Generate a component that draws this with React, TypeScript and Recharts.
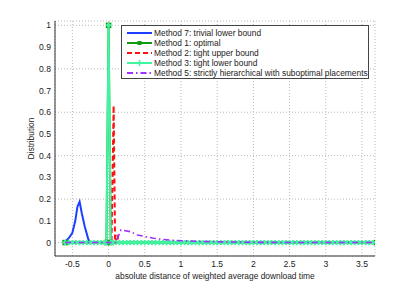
import {
  LineChart,
  Line,
  XAxis,
  YAxis,
  CartesianGrid,
  Legend,
  Label,
} from "recharts";

// axis ticks
const xTicks = [-0.5, 0, 0.5, 1, 1.5, 2, 2.5, 3, 3.5];
const yTicks = [0, 0.1, 0.2, 0.3, 0.4, 0.5, 0.6, 0.7, 0.8, 0.9, 1];

// series values, [x, y]
const method7 = [
  [-0.62, 0], [-0.58, 0.01], [-0.54, 0.025], [-0.5, 0.045], [-0.46, 0.1],
  [-0.43, 0.165], [-0.4, 0.188], [-0.37, 0.135], [-0.33, 0.075],
  [-0.28, 0.015], [-0.25, 0], [3.7, 0],
];
const method1 = [
  [-0.6, 0], [-0.03, 0], [0, 1], [0.03, 0], [3.7, 0],
];
const method2 = [
  [-0.6, 0], [0.04, 0], [0.07, 0.63], [0.09, 0.0], [0.1, 0.0],
  [0.12, 0.035], [0.14, 0], [3.7, 0],
];
const method3 = [
  [-0.6, 0], [-0.55, 0], [-0.5, 0], [-0.45, 0], [-0.4, 0], [-0.35, 0],
  [-0.3, 0], [-0.25, 0], [-0.2, 0], [-0.15, 0], [-0.1, 0], [-0.05, 0],
  [-0.03, 0], [0, 1], [0.03, 0], [0.05, 0], [0.1, 0], [0.15, 0], [0.2, 0],
  [0.25, 0], [0.3, 0], [0.35, 0], [0.4, 0], [0.45, 0], [0.5, 0], [0.55, 0],
  [0.6, 0], [0.65, 0], [0.7, 0], [0.75, 0], [0.8, 0], [0.85, 0], [0.9, 0],
  [0.95, 0], [1, 0], [1.05, 0], [1.1, 0], [1.15, 0], [1.2, 0], [1.25, 0],
  [1.3, 0], [1.35, 0], [1.4, 0], [1.45, 0], [1.5, 0], [1.55, 0], [1.6, 0],
  [1.65, 0], [1.7, 0], [1.75, 0], [1.8, 0], [1.85, 0], [1.9, 0], [1.95, 0],
  [2, 0], [2.05, 0], [2.1, 0], [2.15, 0], [2.2, 0], [2.25, 0], [2.3, 0],
  [2.35, 0], [2.4, 0], [2.45, 0], [2.5, 0], [2.55, 0], [2.6, 0], [2.65, 0],
  [2.7, 0], [2.75, 0], [2.8, 0], [2.85, 0], [2.9, 0], [2.95, 0], [3, 0],
  [3.05, 0], [3.1, 0], [3.15, 0], [3.2, 0], [3.25, 0], [3.3, 0], [3.35, 0],
  [3.4, 0], [3.45, 0], [3.5, 0], [3.55, 0], [3.6, 0], [3.65, 0], [3.7, 0],
];
const method5 = [
  [-0.6, 0], [0.1, 0], [0.17, 0.058], [0.3, 0.05], [0.4, 0.035],
  [0.5, 0.028], [0.62, 0.02], [0.75, 0.014], [0.9, 0.01], [1.05, 0.008],
  [1.3, 0.005], [1.6, 0.003], [2, 0.001], [2.5, 0], [3.7, 0],
];

const toPoints = (arr: number[][]) => arr.map(([x, y]) => ({ x, y }));

const BLUE = "#1f3fff";
const DARK_GREEN = "#109a10";
const RED = "#ff1010";
const MINT = "#40f5a0";
const PURPLE = "#a030ff";

const FONT = "'Liberation Sans', Arial, Helvetica, sans-serif";

function PlusDot(props: any) {
  const { cx, cy } = props;
  if (cx == null || cy == null) return null;
  return (
    <path
      d={`M${cx - 2.5},${cy}H${cx + 2.5}M${cx},${cy - 2.6}V${cy + 2.6}`}
      stroke={MINT}
      strokeWidth={2}
      fill="none"
    />
  );
}

function SquareDot(props: any) {
  const { cx, cy } = props;
  if (cx == null || cy == null) return null;
  return (
    <rect
      x={cx - 2}
      y={cy - 2}
      width={4}
      height={4}
      stroke={DARK_GREEN}
      strokeWidth={1.5}
      fill="none"
    />
  );
}

const legendRows = [
  { name: "Method 7: trivial lower bound", color: BLUE, dash: undefined, marker: "" },
  { name: "Method 1: optimal", color: DARK_GREEN, dash: undefined, marker: "square" },
  { name: "Method 2: tight upper bound", color: RED, dash: "5 3", marker: "" },
  { name: "Method 3: tight lower bound", color: MINT, dash: undefined, marker: "plus" },
  {
    name: "Method 5: strictly hierarchical with suboptimal placements",
    color: PURPLE,
    dash: "6 3 1.5 3",
    marker: "",
  },
];

function LegendBox() {
  return (
    <svg width={248} height={54} style={{ display: "block" }}>
      <rect x={0.5} y={0.5} width={247} height={53} fill="#fff" stroke="#444" />
      {legendRows.map((r, i) => {
        const y = 8 + i * 10;
        return (
          <g key={r.name}>
            <line
              x1={6}
              x2={31}
              y1={y}
              y2={y}
              stroke={r.color}
              strokeWidth={2}
              strokeDasharray={r.dash}
            />
            {r.marker === "square" && (
              <rect x={16.5} y={y - 2} width={4} height={4} fill={r.color} />
            )}
            {r.marker === "plus" && (
              <path
                d={`M${15.5},${y}H${21.5}M${18.5},${y - 3}V${y + 3}`}
                stroke={r.color}
                strokeWidth={1.5}
              />
            )}
            <text
              x={33}
              y={y + 3}
              fontSize={8.4}
              fill="#222"
              fontFamily={FONT}
            >
              {r.name}
            </text>
          </g>
        );
      })}
    </svg>
  );
}

export default function App() {
  return (
    <div
      style={{
        position: "absolute",
        left: 0,
        top: 0,
        width: 415,
        height: 289,
        background: "#fff",
        fontFamily: FONT,
      }}
    >
      <LineChart
        width={415}
        height={289}
        margin={{ top: 21, right: 40, bottom: 0, left: 0 }}
        style={{ fontFamily: FONT }}
      >
        <CartesianGrid stroke="#b8b8b8" strokeDasharray="1 2" />

        <XAxis
          type="number"
          dataKey="x"
          domain={[-0.74, 3.68]}
          ticks={xTicks}
          allowDataOverflow
          tickLine={false}
          tickSize={0}
          tickMargin={5}
          height={33}
          stroke="#333"
          tick={{ fill: "#222", fontSize: 8.6 }}
        >
          <Label
            value="absolute distance of weighted average download time"
            position="insideBottom"
            offset={10}
            fontSize={8.4}
            fill="#222"
          />
        </XAxis>

        <XAxis
          xAxisId="top"
          orientation="top"
          type="number"
          domain={[-0.74, 3.68]}
          allowDataOverflow
          height={0}
          tick={false}
          tickLine={false}
          stroke="#333"
        >
          <Label
            value="Experiment A."
            position="top"
            offset={5}
            fontSize={9}
            fill="#222"
          />
        </XAxis>

        <YAxis
          type="number"
          domain={[-0.062, 1.02]}
          ticks={yTicks}
          allowDataOverflow
          width={55}
          tickLine={false}
          tickSize={0}
          tickMargin={4}
          stroke="#333"
          tick={{ fill: "#222", fontSize: 8.6 }}
        >
          <Label
            value="Distribution"
            angle={-90}
            position="insideLeft"
            offset={31}
            fontSize={8.4}
            fill="#222"
            style={{ textAnchor: "middle" }}
          />
        </YAxis>

        <YAxis
          yAxisId="right"
          orientation="right"
          type="number"
          domain={[-0.062, 1.02]}
          allowDataOverflow
          width={0}
          tick={false}
          tickLine={false}
          stroke="#333"
        />

        <Line
          data={toPoints(method7)}
          dataKey="y"
          name="Method 7: trivial lower bound"
          stroke={BLUE}
          strokeWidth={2}
          dot={false}
          isAnimationActive={false}
        />
        <Line
          data={toPoints(method1)}
          dataKey="y"
          name="Method 1: optimal"
          stroke={DARK_GREEN}
          strokeWidth={2}
          dot={(p: any) => <SquareDot key={`m1-${p.index}`} cx={p.cx} cy={p.cy} />}
          isAnimationActive={false}
        />
        <Line
          data={toPoints(method2)}
          dataKey="y"
          name="Method 2: tight upper bound"
          stroke={RED}
          strokeWidth={2}
          strokeDasharray="5 3"
          dot={false}
          isAnimationActive={false}
        />
        <Line
          data={toPoints(method3)}
          dataKey="y"
          name="Method 3: tight lower bound"
          stroke={MINT}
          strokeWidth={2}
          dot={(p: any) => <PlusDot key={`m3-${p.index}`} cx={p.cx} cy={p.cy} />}
          isAnimationActive={false}
        />
        <Line
          data={toPoints(method5)}
          dataKey="y"
          name="Method 5: strictly hierarchical with suboptimal placements"
          stroke={PURPLE}
          strokeWidth={1.6}
          strokeDasharray="6 3 1.5 3"
          dot={false}
          isAnimationActive={false}
          {...({ zIndex: 900 } as any)}
        />

        <Legend
          layout="vertical"
          align="center"
          verticalAlign="middle"
          content={() => <LegendBox />}
          wrapperStyle={{
            position: "absolute",
            left: 121,
            top: 25,
            width: 248,
            height: 54,
          }}
        />
      </LineChart>
    </div>
  );
}
